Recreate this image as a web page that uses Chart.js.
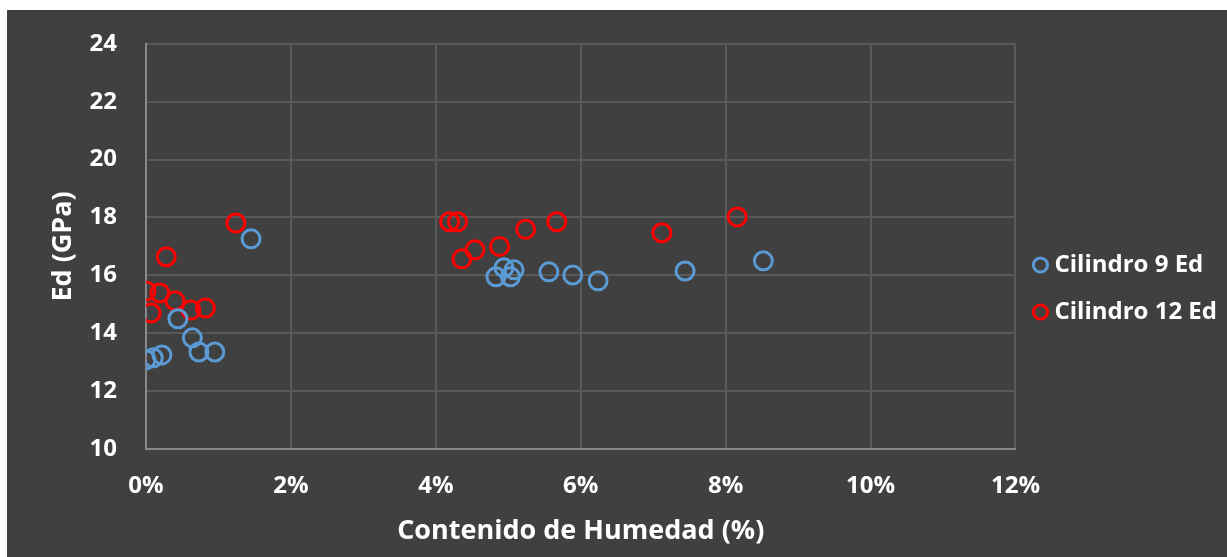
<!DOCTYPE html>
<html>
<head>
<meta charset="utf-8">
<script src="https://cdn.jsdelivr.net/npm/chart.js@4/dist/chart.umd.min.js"></script>
<style>
  html, body { margin: 0; padding: 0; background: #fff; }
  #wrap { position: absolute; left: 7px; top: 10px; width: 1220px; height: 547px; background: #404040; }
</style>
</head>
<body>
<div id="wrap"><canvas id="chart"></canvas></div>
<script>
// humedad (%) / Ed (GPa)
var cil9Humedad = [0.00, 0.10, 0.22, 0.44, 0.64, 0.73, 0.95, 1.45, 4.83, 4.94, 5.03, 5.08, 5.56, 5.89, 6.24, 7.44, 8.52];
var cil9Ed = [13.08, 13.15, 13.25, 14.50, 13.84, 13.35, 13.35, 17.26, 15.95, 16.26, 15.95, 16.19, 16.12, 16.01, 15.81, 16.15, 16.50];

var cil12Humedad = [0.00, 0.07, 0.19, 0.28, 0.40, 0.62, 0.82, 1.24, 4.19, 4.30, 4.36, 4.54, 4.88, 5.24, 5.67, 7.12, 8.16];
var cil12Ed = [15.46, 14.70, 15.39, 16.64, 15.12, 14.80, 14.87, 17.81, 17.85, 17.85, 16.57, 16.88, 17.00, 17.59, 17.85, 17.47, 18.02];

var seriesNames = ['Cilindro 9 Ed', 'Cilindro 12 Ed'];
var xTicks = [0, 2, 4, 6, 8, 10, 12];
var yTicks = [10, 12, 14, 16, 18, 20, 22, 24];

function toPoints(xs, ys) {
  return xs.map(function (x, i) { return { x: x, y: ys[i] }; });
}

var font = 'Open Sans';

new Chart(document.getElementById('chart').getContext('2d'), {
  type: 'scatter',
  data: {
    datasets: [
      {
        label: seriesNames[0],
        data: toPoints(cil9Humedad, cil9Ed),
        borderColor: '#5b9bd5',
        backgroundColor: 'rgba(0,0,0,0)',
        borderWidth: 3,
        pointRadius: 9,
        pointHoverRadius: 9
      },
      {
        label: seriesNames[1],
        data: toPoints(cil12Humedad, cil12Ed),
        borderColor: '#ff0000',
        backgroundColor: 'rgba(0,0,0,0)',
        borderWidth: 3,
        pointRadius: 9,
        pointHoverRadius: 9
      }
    ]
  },
  options: {
    responsive: true,
    maintainAspectRatio: false,
    animation: false,
    layout: { padding: { left: 0, right: 0, top: 10, bottom: 0 } },
    plugins: {
      tooltip: { enabled: false },
      legend: {
        position: 'right',
        labels: {
          color: '#ffffff',
          font: { family: font, weight: 'bold', size: 24 },
          usePointStyle: true,
          pointStyle: 'circle',
          boxWidth: 4,
          boxHeight: 10,
          padding: 23
        }
      }
    },
    scales: {
      x: {
        type: 'linear',
        min: 0,
        max: 12,
        afterBuildTicks: function (axis) {
          axis.ticks = xTicks.map(function (v) { return { value: v }; });
        },
        afterFit: function (axis) { axis.height = 108; },
        ticks: {
          color: '#ffffff',
          font: { family: font, weight: 'bold', size: 24 },
          padding: 23,
          callback: function (v) { return v + '%'; }
        },
        grid: { color: '#595959', lineWidth: 2, drawTicks: false },
        border: { color: '#888888', width: 2 },
        title: {
          display: true,
          text: 'Contenido de Humedad (%)',
          color: '#ffffff',
          font: { family: font, weight: 'bold', size: 27 },
          padding: { top: 0, bottom: 9 }
        }
      },
      y: {
        min: 10,
        max: 24,
        afterBuildTicks: function (axis) {
          axis.ticks = yTicks.map(function (v) { return { value: v }; });
        },
        afterFit: function (axis) { axis.width = 139; },
        ticks: {
          color: '#ffffff',
          font: { family: font, weight: 'bold', size: 24, lineHeight: 0.4 },
          padding: 29
        },
        grid: { color: '#595959', lineWidth: 2, drawTicks: false },
        border: { color: '#888888', width: 2 },
        title: {
          display: true,
          text: 'Ed (GPa)',
          color: '#ffffff',
          font: { family: font, weight: 'bold', size: 27 },
          padding: { top: 40, bottom: 0 }
        }
      }
    }
  }
});
</script>
</body>
</html>
